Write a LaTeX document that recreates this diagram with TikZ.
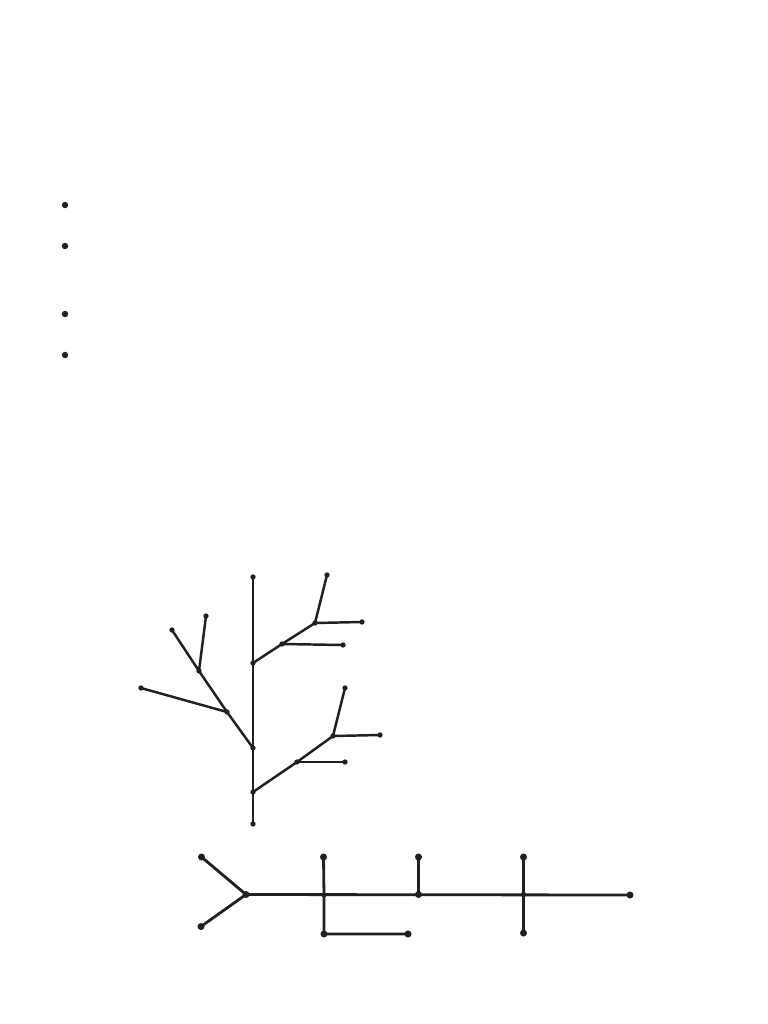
\documentclass[tikz,border=0pt]{standalone}
\usepackage{tikz}
\definecolor{ink}{RGB}{35,31,32}
\tikzset{
	dot/.style={circle,fill=ink,inner sep=0pt,minimum size=6pt},
	bud/.style={circle,fill=ink,inner sep=0pt,minimum size=4.5pt},
	twig/.style={draw=ink,line width=2.1pt,line join=round},
	bar/.style={draw=ink,line width=2.4pt,line join=round}
}

\begin{document}
\begin{tikzpicture}[x=0.03cm,y=-0.03cm]
	\useasboundingbox [fill=white] (0,0) rectangle (768,1024);

	% Bullets %
	\foreach \n/\y in {1/205,2/246,3/314,4/355}
		\node [dot,minimum size=5.5pt] (bul\n) at (65,\y) {};

	% Trunk %
	\node [bud] (top) at (253,577) {};
	\node [bud] (bottom) at (253,824) {};
	\node [bud] (rjoin1) at (253,663) {};
	\node [bud] (ljoin) at (253,748) {};
	\node [bud] (rjoin2) at (253,792) {};
	\draw [twig] (top.center) -- (bottom.center);
	% Upper right branch %
	\node [bud] (ua) at (282,644) {};
	\node [bud] (uaend) at (343,645) {};
	\node [bud] (ub) at (315,623) {};
	\node [bud] (ubright) at (362,622) {};
	\node [bud] (ubup) at (327,575) {};
	\draw [twig] (rjoin1.center) -- (ua.center) -- (ub.center) -- (ubup.center);
	\draw [twig] (ua.center) -- (uaend.center);
	\draw [twig] (ub.center) -- (ubright.center);
	% Left branch %
	\node [bud] (la) at (227,712) {};
	\node [bud] (laend) at (141,688) {};
	\node [bud] (lb) at (199,671) {};
	\node [bud] (lbleft) at (172,630) {};
	\node [bud] (lbup) at (206,616) {};
	\draw [twig] (ljoin.center) -- (la.center) -- (lb.center) -- (lbleft.center);
	\draw [twig] (la.center) -- (laend.center);
	\draw [twig] (lb.center) -- (lbup.center);
	% Lower right branch %
	\node [bud] (da) at (297,762) {};
	\node [bud] (daend) at (345,762) {};
	\node [bud] (db) at (333,736) {};
	\node [bud] (dbright) at (380,735) {};
	\node [bud] (dbup) at (345,688) {};
	\draw [twig] (rjoin2.center) -- (da.center) -- (db.center) -- (dbup.center);
	\draw [twig] (da.center) -- (daend.center);
	\draw [twig] (db.center) -- (dbright.center);

	% Spine %
	\node [dot] (fork) at (246,894.5) {};
	\node [dot] (forkup) at (201.5,857) {};
	\node [dot] (forkdown) at (201,926.5) {};
	\node [bud] (pa) at (324,895) {};
	\node [dot] (paup) at (323.5,857) {};
	\node [dot] (padown) at (324,934) {};
	\node [dot] (padownend) at (408,934) {};
	\node [dot] (pb) at (418.5,894.5) {};
	\node [dot] (pbup) at (418.5,857) {};
	\node [bud] (pc) at (523.5,894.5) {};
	\node [dot] (pcup) at (523.5,857) {};
	\node [dot] (pcdown) at (523.5,933) {};
	\node [dot] (tail) at (630,895) {};
	\draw [bar] (forkup.center) -- (fork.center) -- (forkdown.center);
	\draw [bar] (fork.center) -- (tail.center);
	\draw [bar] (paup.center) -- (pa.center) -- (padown.center) -- (padownend.center);
	\draw [bar] (pb.center) -- (pbup.center);
	\draw [bar] (pcup.center) -- (pcdown.center);
\end{tikzpicture}
\end{document}
